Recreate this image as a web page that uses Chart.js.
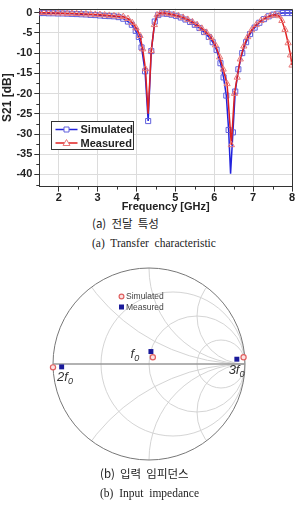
<!DOCTYPE html>
<html>
<head>
<meta charset="utf-8">
<style>
	html, body { margin: 0; padding: 0; background: #fff; }
	body { width: 298px; height: 508px; position: relative; overflow: hidden; }
	#s21 { position: absolute; left: 0; top: 0; }
	#smith { position: absolute; left: 0; top: 250px; }
	.cap { position: absolute; font-family: "Liberation Serif", serif; font-size: 11.5px; color: #222; white-space: pre; line-height: 14px; }
	.kr { font-family: "Noto Sans CJK KR", sans-serif; font-size: 11.5px; }
</style>
<script src="https://cdn.jsdelivr.net/npm/chart.js"></script>
</head>
<body>
<canvas id="s21" width="298" height="214"></canvas>
<div class="cap kr" style="left:92px; top:216px;">(a)  전달  특성</div>
<div class="cap" style="left:92px; top:236px;">(a)  Transfer  characteristic</div>
<canvas id="smith" width="298" height="225"></canvas>
<div class="cap kr" style="left:100px; top:466px;">(b)  입력  임피던스</div>
<div class="cap" style="left:100px; top:486px;">(b)  Input  impedance</div>

<script>
	// S21 - simulated
	var freqSim = [1.50, 1.62, 1.74, 1.86, 1.98, 2.10, 2.22, 2.34, 2.46, 2.58, 2.70, 2.82, 2.94, 3.06, 3.18, 3.30, 3.42, 3.54, 3.66, 3.78,
		3.88, 3.98, 4.06, 4.13, 4.22, 4.30, 4.38, 4.47, 4.56, 4.66,
		4.78, 4.90, 5.02, 5.14, 5.26, 5.38, 5.50, 5.62, 5.74, 5.86,
		5.96, 6.06, 6.16, 6.24, 6.31, 6.37, 6.42, 6.48, 6.54, 6.62, 6.72, 6.82, 6.92,
		7.04, 7.16, 7.28, 7.40, 7.52, 7.64, 7.76, 7.88, 8.00];
	var s21Sim = [-0.1, -0.1, -0.15, -0.15, -0.2, -0.2, -0.25, -0.3, -0.35, -0.4, -0.45, -0.55, -0.6, -0.7, -0.8, -0.85, -0.9, -1.1, -1.5, -2.2,
		-3.0, -4.5, -6.0, -8.6, -14.5, -26.8, -9.5, -2.2, -0.6, -0.2,
		-0.3, -0.5, -0.8, -1.2, -1.7, -2.3, -3.0, -3.8, -4.8, -6.0,
		-7.3, -9.2, -12.5, -16, -20.5, -29, -39.8, -29.6, -19.5, -14, -10, -7.3, -5.3,
		-3.7, -2.5, -1.6, -0.9, -0.5, -0.25, -0.1, -0.1, -0.1];

	// S21 - measured
	var freqMeas = [1.50, 1.62, 1.74, 1.86, 1.98, 2.10, 2.22, 2.34, 2.46, 2.58, 2.70, 2.82, 2.94, 3.06, 3.18, 3.30, 3.42, 3.54, 3.66, 3.78,
		3.89, 3.99, 4.09, 4.16, 4.23, 4.30, 4.38, 4.46, 4.53, 4.62,
		4.72, 4.84, 4.96, 5.08, 5.20, 5.32, 5.44, 5.56, 5.68, 5.80,
		5.92, 6.03, 6.14, 6.23, 6.33, 6.44, 6.52, 6.59, 6.67, 6.76, 6.86, 6.96,
		7.08, 7.20, 7.32, 7.44, 7.56, 7.66, 7.74, 7.82, 7.90, 7.96, 8.00];
	var s21Meas = [0, 0, -0.05, -0.1, -0.1, -0.15, -0.2, -0.2, -0.25, -0.3, -0.35, -0.4, -0.45, -0.5, -0.6, -0.7, -0.8, -0.9, -1.0, -1.5,
		-2.5, -3.8, -5.7, -9.0, -13.9, -25, -9.4, -3.0, -0.6, -0.1,
		-0.1, -0.3, -0.5, -0.8, -1.2, -1.7, -2.3, -3.0, -3.9, -4.9,
		-6.2, -8.0, -11, -14, -17.6, -32.7, -20, -16, -11.5, -8.3, -6, -4.3,
		-3.0, -2.0, -1.3, -0.8, -0.5, -0.8, -2.0, -4.2, -7.5, -10.5, -13];

	// points that are on the line but carry no marker
	var simLineOnly = [6.42];
	var measLineOnly = [4.30];

	var freqTicks = [2, 3, 4, 5, 6, 7, 8];
	var dbTicks = [-40, -35, -30, -25, -20, -15, -10, -5, 0];

	// smith chart: reflection coefficient at f0, 2f0, 3f0
	var harmonics = ['2f0', 'f0', '3f0'];
	var simGammaRe = [-1.0, 0.04, 0.985];
	var simGammaIm = [-0.035, 0.07, 0.07];
	var measGammaRe = [-0.91, 0.02, 0.915];
	var measGammaIm = [-0.03, 0.13, 0.05];

	var smithR = [1 / 3, 1, 3];
	var smithX = [0.5, 1, 2];

	function pts(xs, ys) {
		return xs.map(function (x, i) { return { x: x, y: ys[i] }; });
	}
	function fixTicks(values) {
		return function (axis) {
			axis.ticks = values.map(function (v) { return { value: v }; });
		};
	}

	var boldFont = { family: '"Liberation Sans", Arial, sans-serif', size: 11, weight: 'bold' };

	// frame, minor ticks, legend box
	var s21Extras = {
		id: 's21Extras',
		afterDraw: function (chart) {
			var ctx = chart.ctx, a = chart.chartArea;
			var xs = chart.scales.x, ys = chart.scales.y;
			ctx.save();
			ctx.strokeStyle = '#333';
			ctx.lineWidth = 1;
			ctx.beginPath();
			ctx.moveTo(a.left, Math.round(a.top) + 0.5);
			ctx.lineTo(Math.round(a.right) + 0.5, Math.round(a.top) + 0.5);
			ctx.lineTo(Math.round(a.right) + 0.5, a.bottom);
			ctx.stroke();

			// minor ticks
			ctx.beginPath();
			for (var v = -42.5; v < 0; v += 5) {
				var py = Math.round(ys.getPixelForValue(v)) + 0.5;
				ctx.moveTo(a.left - 3, py);
				ctx.lineTo(a.left, py);
			}
			for (var f = 2.5; f < 8; f += 1) {
				var px = Math.round(xs.getPixelForValue(f)) + 0.5;
				ctx.moveTo(px, a.bottom);
				ctx.lineTo(px, a.bottom + 3);
			}
			ctx.stroke();

			// legend
			var bx = Math.round(xs.getPixelForValue(1.81)) + 0.5;
			var by = Math.round(ys.getPixelForValue(-26.8)) + 0.5;
			ctx.fillStyle = '#fff';
			ctx.fillRect(bx, by, 82, 28);
			ctx.strokeStyle = '#333';
			ctx.strokeRect(bx, by, 82, 28);
			ctx.font = 'bold 11px "Liberation Sans", Arial, sans-serif';
			ctx.textBaseline = 'middle';
			chart.data.datasets.forEach(function (ds, i) {
				var ly = by + 8 + i * 13.5;
				ctx.strokeStyle = ds.borderColor;
				ctx.lineWidth = 1.5;
				ctx.beginPath();
				ctx.moveTo(bx + 4, ly);
				ctx.lineTo(bx + 26, ly);
				ctx.stroke();
				var cx = bx + 15;
				ctx.lineWidth = 1;
				ctx.strokeStyle = ds.pointBorderColor;
				ctx.fillStyle = '#fff';
				ctx.beginPath();
				if (ds.pointStyle === 'rect') {
					ctx.rect(cx - 2.5, ly - 2.5, 5, 5);
				} else {
					ctx.moveTo(cx, ly - 3.5);
					ctx.lineTo(cx + 3.5, ly + 2.5);
					ctx.lineTo(cx - 3.5, ly + 2.5);
					ctx.closePath();
				}
				ctx.fill();
				ctx.stroke();
				ctx.fillStyle = '#222';
				ctx.fillText(ds.label, bx + 29, ly + 0.5);
			});
			ctx.restore();
		}
	};

	new Chart(document.getElementById('s21'), {
		type: 'line',
		data: {
			datasets: [{
				label: 'Simulated',
				data: pts(freqSim, s21Sim),
				borderColor: '#2222dd',
				borderWidth: 1.5,
				pointStyle: 'rect',
				pointRadius: function (c) { return c.raw && simLineOnly.indexOf(c.raw.x) >= 0 ? 0 : 3.6; },
				pointBorderColor: '#6060dd',
				pointBackgroundColor: 'rgba(255,255,255,0)',
				pointBorderWidth: 1,
				order: 1
			}, {
				label: 'Measured',
				data: pts(freqMeas, s21Meas),
				borderColor: '#e02020',
				borderWidth: 1.5,
				pointStyle: 'triangle',
				pointRadius: function (c) { return c.raw && measLineOnly.indexOf(c.raw.x) >= 0 ? 0 : 3.6; },
				pointBorderColor: '#e87878',
				pointBackgroundColor: 'rgba(255,255,255,0)',
				pointBorderWidth: 1,
				order: 0
			}]
		},
		options: {
			responsive: false,
			animation: false,
			layout: { padding: { left: 0, right: 6, top: 0, bottom: 0 } },
			plugins: { legend: { display: false }, tooltip: { enabled: false } },
			scales: {
				x: {
					type: 'linear',
					min: 1.5,
					max: 8,
					afterBuildTicks: fixTicks(freqTicks),
					ticks: { padding: 0, color: '#222', font: boldFont },
					grid: { color: '#dcdcdc', tickColor: '#333', tickLength: 5 },
					border: { color: '#333' },
					title: { display: true, text: 'Frequency [GHz]', color: '#222', font: boldFont, padding: { top: -4, bottom: 0 } }
				},
				y: {
					min: -43,
					max: 1,
					afterBuildTicks: fixTicks(dbTicks),
					ticks: { padding: 2, color: '#222', font: boldFont },
					grid: { color: '#dcdcdc', tickColor: '#333', tickLength: 5 },
					border: { color: '#333' },
					title: { display: true, text: 'S21 [dB]', color: '#222', font: { family: boldFont.family, size: 12, weight: 'bold' }, padding: { top: 0, bottom: 0 } }
				}
			}
		},
		plugins: [s21Extras]
	});

	// smith chart grid
	var smithGrid = {
		id: 'smithGrid',
		beforeDatasetsDraw: function (chart) {
			var ctx = chart.ctx;
			var xs = chart.scales.x, ys = chart.scales.y;
			var cx = xs.getPixelForValue(0), cy = ys.getPixelForValue(0);
			var R = xs.getPixelForValue(1) - cx;
			ctx.save();
			ctx.beginPath();
			ctx.arc(cx, cy, R, 0, Math.PI * 2);
			ctx.clip();
			ctx.strokeStyle = '#cfcfcf';
			ctx.lineWidth = 0.9;
			smithR.forEach(function (r) {
				ctx.beginPath();
				ctx.arc(cx + R * r / (1 + r), cy, R / (1 + r), 0, Math.PI * 2);
				ctx.stroke();
			});
			smithX.forEach(function (x) {
				[1, -1].forEach(function (s) {
					ctx.beginPath();
					ctx.arc(cx + R, cy - s * R / x, R / x, 0, Math.PI * 2);
					ctx.stroke();
				});
			});
			ctx.restore();
			ctx.save();
			ctx.strokeStyle = '#777';
			ctx.lineWidth = 1;
			ctx.beginPath();
			ctx.arc(cx, cy, R, 0, Math.PI * 2);
			ctx.stroke();
			ctx.strokeStyle = '#999';
			ctx.lineWidth = 1.6;
			ctx.beginPath();
			ctx.moveTo(cx - R, cy);
			ctx.lineTo(cx + R, cy);
			ctx.stroke();
			ctx.restore();
		},
		afterDraw: function (chart) {
			var ctx = chart.ctx;
			var xs = chart.scales.x, ys = chart.scales.y;
			var cx = xs.getPixelForValue(0), cy = ys.getPixelForValue(0);
			ctx.save();
			// legend
			var lx = cx - 27.5, ly = cy - 67.5;
			ctx.font = '8.5px "Liberation Sans", Arial, sans-serif';
			ctx.textBaseline = 'middle';
			ctx.strokeStyle = '#e06060';
			ctx.fillStyle = '#fbe3e3';
			ctx.lineWidth = 1.2;
			ctx.beginPath();
			ctx.arc(lx, ly, 2.4, 0, Math.PI * 2);
			ctx.fill();
			ctx.stroke();
			ctx.fillStyle = '#1a1a9a';
			ctx.fillRect(lx - 2.5, ly + 8, 5, 5);
			ctx.fillStyle = '#444';
			ctx.fillText(chart.data.datasets[0].label, lx + 4.5, ly + 0.5);
			ctx.fillText(chart.data.datasets[1].label, lx + 4.5, ly + 11);

			// harmonic labels next to the points
			var offs = [[12, 11], [-18, -2], [-7, 14]];
			harmonics.forEach(function (h, i) {
				var px = xs.getPixelForValue(simGammaRe[i]) + offs[i][0];
				var py = ys.getPixelForValue(simGammaIm[i]) + offs[i][1];
				var main = h.slice(0, -1), sub = h.slice(-1);
				ctx.font = 'italic 13px "Liberation Sans", Arial, sans-serif';
				var w1 = ctx.measureText(main).width;
				ctx.font = 'italic 9px "Liberation Sans", Arial, sans-serif';
				var w2 = ctx.measureText(sub).width;
				var x0 = px - (w1 + w2) / 2;
				ctx.fillStyle = '#333';
				ctx.textBaseline = 'alphabetic';
				ctx.font = 'italic 13px "Liberation Sans", Arial, sans-serif';
				ctx.fillText(main, x0, py + 3);
				ctx.font = 'italic 9px "Liberation Sans", Arial, sans-serif';
				ctx.fillText(sub, x0 + w1, py + 6);
			});
			ctx.restore();
		}
	};

	new Chart(document.getElementById('smith'), {
		type: 'scatter',
		data: {
			datasets: [{
				label: 'Simulated',
				data: pts(simGammaRe, simGammaIm),
				pointStyle: 'circle',
				pointRadius: 2.6,
				pointBorderWidth: 1.2,
				pointBorderColor: '#e06060',
				pointBackgroundColor: '#fbe3e3',
				clip: false,
				order: 0
			}, {
				label: 'Measured',
				data: pts(measGammaRe, measGammaIm),
				pointStyle: 'rect',
				pointRadius: 3.5,
				pointBorderWidth: 0,
				pointBorderColor: '#1a1a9a',
				pointBackgroundColor: '#1a1a9a',
				clip: false,
				order: 1
			}]
		},
		options: {
			responsive: false,
			animation: false,
			layout: { padding: { left: 53, right: 53, top: 18, bottom: 15 } },
			plugins: { legend: { display: false }, tooltip: { enabled: false } },
			scales: {
				x: { type: 'linear', min: -1, max: 1, display: false },
				y: { type: 'linear', min: -1, max: 1, display: false }
			}
		},
		plugins: [smithGrid]
	});
</script>
</body>
</html>
